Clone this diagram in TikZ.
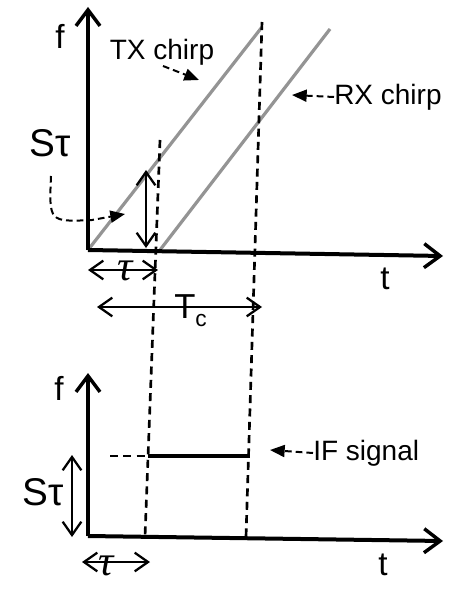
\documentclass[tikz,border=0pt]{standalone}
\usepackage{fontspec}
\setmainfont{Liberation Sans}
\newfontfamily\serifgr{Liberation Serif}
\usetikzlibrary{arrows.meta}
\begin{document}
\begin{tikzpicture}[x=0.75pt,y=-0.75pt,
  axis/.style={line width=3pt,-{Straight Barb[length=12pt,width=18pt,line width=2.6pt]}},
  chirp/.style={line width=2.4pt,color=black!42},
  guide/.style={line width=2pt,dash pattern=on 6pt off 4pt},
  dim/.style={line width=1.7pt,{Straight Barb[length=10pt,width=14pt,line width=1.7pt]}-{Straight Barb[length=10pt,width=14pt,line width=1.7pt]}},
  note/.style={line width=1.5pt,dash pattern=on 5pt off 3pt,-{Triangle[length=11pt,width=9pt]}},
  lbl/.style={inner sep=0pt,font=\fontsize{21pt}{24pt}\selectfont},
  big/.style={inner sep=0pt,font=\fontsize{29pt}{32pt}\selectfont},
  tau/.style={inner sep=0pt,font=\serifgr\itshape\fontsize{32pt}{34pt}\selectfont},
  ax/.style={inner sep=0pt,font=\fontsize{25pt}{28pt}\selectfont}]
\useasboundingbox (0,0) rectangle (469,595);
% top plot coordinates
\coordinate (O1) at (88,250);
\coordinate (F1) at (88,7);
\coordinate (T1) at (443,256);
\coordinate (TXe) at (262,27);
\coordinate (RXs) at (160,250);
\coordinate (RXe) at (330,29);
% guide lines
\coordinate (g1t) at (160,140);
\coordinate (g1b) at (145,537);
\coordinate (g2t) at (262,22);
\coordinate (g2b) at (246,537);
% bottom plot
\coordinate (O2) at (88,536);
\coordinate (F2) at (88,373);
\coordinate (T2) at (443,541);
\coordinate (IFa) at (148,456);
\coordinate (IFb) at (250,456);
\coordinate (IFd) at (110,456);
% chirps
\draw[chirp] (O1) -- (TXe);
\draw[chirp] (RXs) -- (RXe);
% guides
\draw[guide] (g1t) -- (g1b);
\draw[guide] (g2t) -- (g2b);
\draw[guide] (IFd) -- (IFa);
% axes
\draw[axis] (O1) -- (F1);
\draw[axis] (O1) -- (T1);
\draw[axis] (O2) -- (F2);
\draw[axis] (O2) -- (T2);
% IF signal
\draw[line width=3pt] (IFa) -- (IFb);
% labels
\node[ax] (f1) at (60,36) {f};
\node[ax] (t1) at (385,279) {t};
\node[ax] (f2) at (59,388) {f};
\node[ax] (t2) at (383,565) {t};
% top S tau dimension
\coordinate (s1t) at (146,170);
\coordinate (s1b) at (146,248);
\draw[dim] (s1b) -- (s1t);
\node[big] (st1) at (50,143) {Sτ};
\draw[note] (51,176) .. controls (49,222) .. (92,220) -- (125,214);
% tau dimension top
\coordinate (ta1) at (88,270);
\coordinate (tb1) at (158,270);
\draw[dim] (ta1) -- (tb1);
\node[tau] (tau1) at (125,271) {τ};
% Tc dimension
\coordinate (ca) at (97,307);
\coordinate (cb) at (262,307);
\draw[dim] (ca) -- (cb);
\node[inner sep=0pt,anchor=base west,font=\fontsize{26pt}{28pt}\selectfont] (tc) at (174,318) {T\raisebox{-6.5pt}{\fontsize{17pt}{19pt}\selectfont c}};
% TX chirp
\node[lbl] (tx) at (162,52) {TX chirp};
\draw[note] (163,66) -- (199,80);
% RX chirp
\node[lbl,anchor=west] (rx) at (334,97) {RX chirp};
\draw[note] (rx.west) -- (292,95);
% bottom S tau
\coordinate (s2t) at (72,455);
\coordinate (s2b) at (72,537);
\draw[dim] (s2b) -- (s2t);
\node[big] (st2) at (43,492) {Sτ};
% bottom tau
\coordinate (ta2) at (82,562);
\coordinate (tb2) at (150,562);
\draw[dim] (ta2) -- (tb2);
\node[tau] (tau2) at (106,566) {τ};
% IF signal label
\node[lbl,anchor=west] (ifl) at (313,453) {IF signal};
\draw[note] (ifl.west) -- (270,450);
\end{tikzpicture}
\end{document}
